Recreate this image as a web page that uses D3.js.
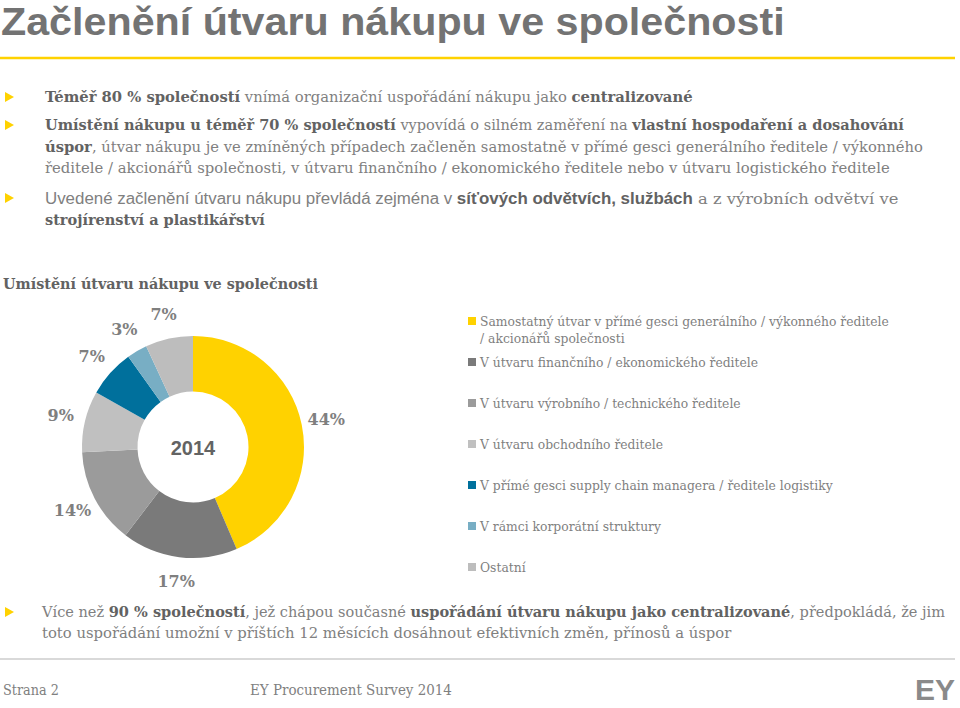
<!DOCTYPE html>
<html><head><meta charset="utf-8">
<script src="https://cdn.jsdelivr.net/npm/d3@7/dist/d3.min.js"></script>
<style>
html,body{margin:0;padding:0;background:#fff;}
svg{display:block;}
</style></head>
<body>
<svg id="c" width="960" height="708"></svg>
<script>
// ---- data ----
const categories = [
  "Samostatný útvar v přímé gesci generálního / výkonného ředitele\n/ akcionářů společnosti",
  "V útvaru finančního / ekonomického ředitele",
  "V útvaru výrobního / technického ředitele",
  "V útvaru obchodního ředitele",
  "V přímé gesci supply chain managera / ředitele logistiky",
  "V rámci korporátní struktury",
  "Ostatní"
];
const values = [44, 17, 14, 9, 7, 3, 7];
const centerLabel = "2014";
const title = "Začlenění útvaru nákupu ve společnosti";
const chartTitle = "Umístění útvaru nákupu ve společnosti";
// bullet text lines: [text, style] n=normal serif, b=bold serif, s=sans, sb=sans bold
const bullets = [
  [[["Téměř 80 % společností","b"],[" vnímá organizační uspořádání nákupu jako ","n"],["centralizované","b"]]],
  [[["Umístění nákupu u téměř 70 % společností","b"],[" vypovídá o silném zaměření na ","n"],["vlastní hospodaření a dosahování","b"]],
   [["úspor","b"],[", útvar nákupu je ve zmíněných případech začleněn samostatně v přímé gesci generálního ředitele / výkonného","n"]],
   [["ředitele / akcionářů společnosti, v útvaru finančního / ekonomického ředitele nebo v útvaru logistického ředitele","n"]]],
  [[["Uvedené začlenění útvaru nákupu převládá zejména v ","s"],["síťových odvětvích, službách","sb"],[" a z výrobních odvětví ve","n"]],
   [["strojírenství a plastikářství","b"]]]
];
const conclusion = [
  [["Více než ","n"],["90 % společností","b"],[", jež chápou současné ","n"],["uspořádání útvaru nákupu jako centralizované","b"],[", předpokládá, že jim","n"]],
  [["toto uspořádání umožní v příštích 12 měsících dosáhnout efektivních změn, přínosů a úspor","n"]]
];
const footerLeft = "Strana 2";
const footerMid = "EY Procurement Survey 2014";

// ---- styles ----
const palette = ["#ffd200","#7a7a7a","#9b9b9b","#c0c0c0","#00709c","#78aec4","#bdbdbd"];
const SERIF = "'DejaVu Serif', serif";
const SANS = "'Liberation Sans', Arial, sans-serif";
const txtGrey = "#808080", boldGrey = "#626262";

const svg = d3.select("#c");

function fitLine(parent, x, y, parts, targetW, size) {
  const t = parent.append("text").attr("font-size", size).attr("dominant-baseline","central");
  parts.forEach(([s, st]) => {
    t.append("tspan").text(s)
      .attr("font-family", st[0] === "s" ? SANS : SERIF)
      .attr("font-weight", st.endsWith("b") ? "bold" : "normal")
      .attr("fill", st.endsWith("b") ? boldGrey : txtGrey)
      .attr("font-size", st[0]==="s" ? size+0.5 : size);
  });
  const w = t.node().getComputedTextLength();
  const k = targetW ? targetW / w : 1;
  t.attr("transform", `translate(${x},${y}) scale(${k},1)`);
  return t;
}
function tri(x, y) {
  svg.append("path").attr("d", `M${x},${y-5}L${x+9},${y}L${x},${y+5}Z`).attr("fill", "#ffd200");
}

// title
const tt = svg.append("text").text(title).attr("font-family", SANS).attr("font-weight","bold")
  .attr("font-size", 39).attr("fill", "#737373");
const tw = tt.node().getComputedTextLength();
tt.attr("transform", `translate(1,35) scale(${784/tw},1)`);
svg.append("line").attr("x1",0).attr("x2",955).attr("y1",58).attr("y2",58)
  .attr("stroke","#ffd200").attr("stroke-width",2.5);

// bullets
const bulletRows = [[97],[125,147,168],[198,220]];
const bulletEnds = [[693],[905,924,890],[899,265]];
bullets.forEach((b, i) => {
  tri(5, bulletRows[i][0]);
  b.forEach((ln, j) => fitLine(svg, 45, bulletRows[i][j], ln, bulletEnds[i][j] - 45, 15.5));
});

// chart title
fitLine(svg, 3, 284, [[chartTitle,"b"]], 315, 15.5);

// donut
const cx = 193, cy = 447, R = 111, r0 = 55.5, RL = 136;
const pie = d3.pie().sort(null).value(d => d);
const arcs = pie(values);
const arc = d3.arc().innerRadius(r0).outerRadius(R);
const labelArc = d3.arc().innerRadius(RL).outerRadius(RL);
const color = d3.scaleOrdinal().domain(d3.range(values.length)).range(palette);
const g = svg.append("g").attr("transform", `translate(${cx},${cy})`);
g.selectAll("path.seg").data(arcs).join("path").attr("class","seg")
  .attr("d", arc).attr("fill", (d,i) => color(i));
g.selectAll("text.lbl").data(arcs).join("text").attr("class","lbl")
  .attr("transform", d => `translate(${labelArc.centroid(d)})`)
  .attr("text-anchor","middle").attr("dominant-baseline","central")
  .attr("font-family", SERIF).attr("font-weight","bold").attr("font-size",16)
  .attr("fill","#7f7f7f").text(d => d.value + "%");
g.append("text").text(centerLabel).attr("text-anchor","middle").attr("dominant-baseline","central")
  .attr("font-family", SANS).attr("font-weight","bold").attr("font-size",20).attr("fill","#636363").attr("y",1);

// legend
const ly = d3.scalePoint().domain(d3.range(categories.length)).range([321, 567]);
const lg = svg.append("g");
categories.forEach((c, i) => {
  const y = ly(i);
  lg.append("rect").attr("x",468).attr("y",y-4).attr("width",8).attr("height",8).attr("fill",color(i));
  c.split("\n").forEach((s, j) => {
    lg.append("text").text(s).attr("x",480).attr("y", y + j*17).attr("dominant-baseline","central")
      .attr("font-family", SERIF).attr("font-size", 13.2).attr("fill", "#7f7f7f")
      .attr("transform", `translate(${480*(1-0.935)},0) scale(0.935,1)`);
  });
});

// conclusion
tri(5, 612);
fitLine(svg, 42, 612, conclusion[0], 946-42, 15.5);
fitLine(svg, 42, 633, conclusion[1], 732-42, 15.5);

// footer
svg.append("line").attr("x1",0).attr("x2",955).attr("y1",659).attr("y2",659)
  .attr("stroke","#d9d9d9").attr("stroke-width",2);
fitLine(svg, 3, 690, [[footerLeft,"n"]], 56, 15.5);
fitLine(svg, 250, 690, [[footerMid,"n"]], 202, 15.5);
const ey = svg.append("text").text("EY").attr("font-family", SANS).attr("font-weight","bold")
  .attr("font-size",29).attr("fill","#8a8a8a");
const ew = ey.node().getComputedTextLength();
ey.attr("transform", `translate(915,700) scale(${40/ew},1)`);
</script>
</body></html>
